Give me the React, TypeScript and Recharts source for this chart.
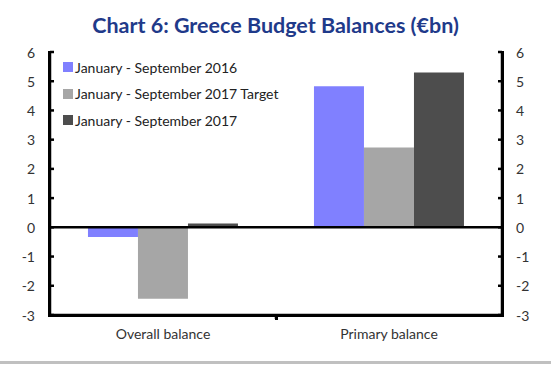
import { BarChart, Bar, XAxis, YAxis, ReferenceLine } from "recharts";

const categories = ["Overall balance", "Primary balance"];
const jan2016 = [-0.33, 4.83];
const target2017 = [-2.44, 2.73];
const jan2017 = [0.13, 5.3];
const yTicks = [-3, -2, -1, 0, 1, 2, 3, 4, 5, 6];

const seriesNames = [
  "January - September 2016",
  "January - September 2017 Target",
  "January - September 2017",
];
const colors = ["#8080ff", "#a6a6a6", "#4d4d4d"];

const data = categories.map((name, i) => ({
  name,
  a: jan2016[i],
  b: target2017[i],
  c: jan2017[i],
}));

const FONT = "Lato, 'Open Sans', sans-serif";

// draws the inward tick marks and the labels on both value axes
function tickShape(value: number) {
  return (props: any) => {
    const xl = Math.min(props.x1, props.x2);
    const xr = Math.max(props.x1, props.x2);
    const y = props.y1;
    const txt = { fill: "#333", fontSize: 14, fontFamily: FONT, dominantBaseline: "central" as const };
    return (
      <g>
        <line x1={xl} y1={y} x2={xl + 4} y2={y} stroke="#000" strokeWidth={2.5} />
        <line x1={xr - 4} y1={y} x2={xr} y2={y} stroke="#000" strokeWidth={2.5} />
        <text x={xl - 15} y={y} textAnchor="end" {...txt}>{value}</text>
        <text x={xr + 14} y={y} textAnchor="start" {...txt}>{value}</text>
      </g>
    );
  };
}

function dividerShape(props: any) {
  const x = props.x1;
  const yb = Math.max(props.y1, props.y2);
  return <line x1={x} y1={yb} x2={x} y2={yb + 4} stroke="#000" strokeWidth={2.5} />;
}

function frameShape(props: any) {
  return <line x1={props.x1} y1={props.y1} x2={props.x2} y2={props.y2} stroke="#000" strokeWidth={2.5} />;
}

export default function App() {
  return (
    <div style={{ position: "fixed", left: 0, top: 0, width: 551, height: 366, background: "#fff" }}>
      <div
        style={{
          position: "absolute",
          top: 12,
          width: 551,
          textAlign: "center",
          fontFamily: FONT,
          fontWeight: 700,
          fontSize: 21.5,
          color: "#1f3a8a",
        }}
      >
        Chart 6: Greece Budget Balances (€bn)
      </div>
      <BarChart
        width={551}
        height={366}
        data={data}
        margin={{ top: 52, right: 49, bottom: 0, left: 50 }}
        barCategoryGap="16.8%"
        barGap={0}
      >
        <XAxis
          dataKey="name"
          height={51}
          axisLine={false}
          tickLine={false}
          tick={{ fill: "#333", fontSize: 14, fontFamily: FONT }}
          tickMargin={8}
        />
        <YAxis hide domain={[-3, 6]} ticks={yTicks} />
        <Bar dataKey="a" name={seriesNames[0]} fill={colors[0]} isAnimationActive={false} />
        <Bar dataKey="b" name={seriesNames[1]} fill={colors[1]} isAnimationActive={false} />
        <Bar dataKey="c" name={seriesNames[2]} fill={colors[2]} isAnimationActive={false} />
        {yTicks.map((v) => (
          <ReferenceLine key={v} y={v} shape={tickShape(v)} />
        ))}
        <ReferenceLine y={0} stroke="#000" strokeWidth={2.5} />
        <ReferenceLine y={-3} shape={frameShape} />
        <ReferenceLine x={categories[0]} position="start" shape={frameShape} />
        <ReferenceLine x={categories[1]} position="end" shape={frameShape} />
        <ReferenceLine x={categories[1]} position="start" shape={dividerShape} />
      </BarChart>
      {/* plot frame drawn as an overlay */}
      <div
        style={{
          position: "absolute",
          left: 48,
          top: 51,
          width: 456,
          height: 266,
          boxSizing: "border-box",
          borderLeft: "3px solid #000",
          borderRight: "3px solid #000",
          borderBottom: "3px solid #000",
          pointerEvents: "none",
        }}
      />
      <div style={{ position: "absolute", left: 275, top: 316, width: 3, height: 4, background: "#000" }} />
      <div
        style={{
          position: "absolute",
          left: 63,
          top: 54,
          fontFamily: FONT,
          fontSize: 14,
          color: "#222",
        }}
      >
        {seriesNames.map((s, i) => (
          <div key={s} style={{ display: "flex", alignItems: "center", height: 26.5 }}>
            <span style={{ width: 10, height: 10, background: colors[i], marginRight: 2, display: "inline-block" }} />
            <span>{s}</span>
          </div>
        ))}
      </div>
      <div style={{ position: "absolute", left: 0, top: 361, width: 551, height: 3, background: "#c0c0c0" }} />
    </div>
  );
}
